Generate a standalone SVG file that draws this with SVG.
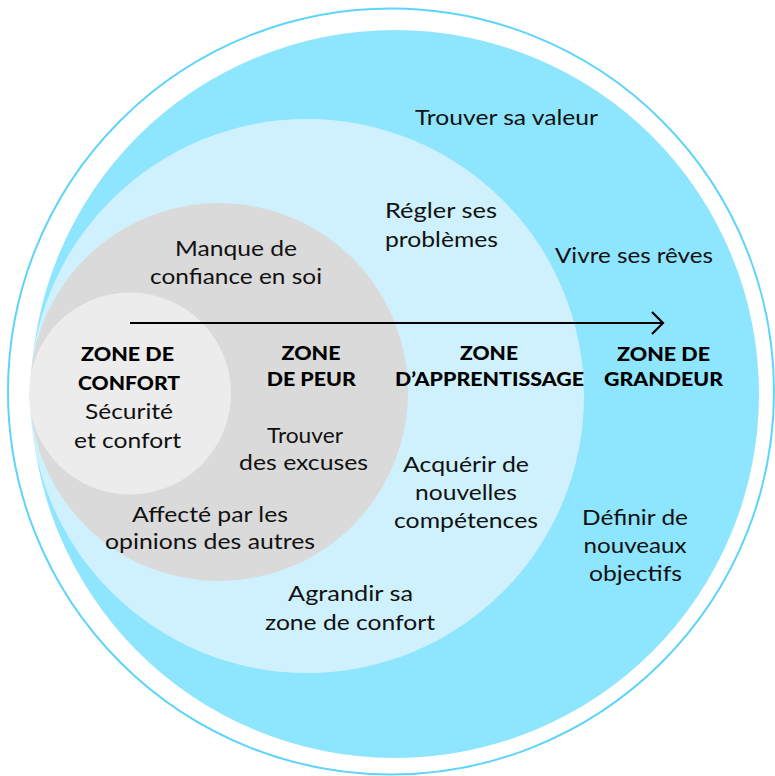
<svg xmlns="http://www.w3.org/2000/svg" width="775" height="776" viewBox="0 0 775 776">
<defs>
<style>
.t{font-family:Lato,"Noto Sans","Liberation Sans",sans-serif;font-size:21px;fill:#111;text-anchor:middle}
.b{font-family:Lato,"Noto Sans","Liberation Sans",sans-serif;font-size:19px;font-weight:900;fill:#000;text-anchor:middle}
</style>
<marker id="arr" viewBox="0 0 14 24" refX="12" refY="12" markerWidth="14" markerHeight="24" markerUnits="userSpaceOnUse" orient="auto">
<path d="M1,1 L12,12 L1,23" fill="none" stroke="#000" stroke-width="2.2"/>
</marker>
</defs>
<g id="ring"><circle cx="391" cy="391.5" r="383" fill="#fff" stroke="#5dd4fa" stroke-width="2"/></g>
<g id="zone-grandeur"><circle cx="395" cy="394" r="364" fill="#8ee5fe"/></g>
<g id="zone-apprentissage"><circle cx="307" cy="396" r="277" fill="#cef1fd"/></g>
<g id="zone-peur"><circle cx="219" cy="392" r="189" fill="#dadada"/></g>
<g id="zone-confort"><circle cx="130" cy="393.5" r="101" fill="#ececec"/></g>
<g id="connectors"><line x1="130" y1="323" x2="663" y2="323" stroke="#000" stroke-width="2.2" marker-end="url(#arr)"/></g>
<g id="labels-grandeur">
<text class="t" x="506.5" y="125" textLength="183" lengthAdjust="spacingAndGlyphs">Trouver sa valeur</text>
<text class="t" x="634" y="263" textLength="158" lengthAdjust="spacingAndGlyphs">Vivre ses rêves</text>
<text class="b" x="663.5" y="361" textLength="93" lengthAdjust="spacingAndGlyphs">ZONE DE</text>
<text class="b" x="663.5" y="386" textLength="119" lengthAdjust="spacingAndGlyphs">GRANDEUR</text>
<text class="t" x="635" y="525" textLength="106" lengthAdjust="spacingAndGlyphs">Définir de</text>
<text class="t" x="635" y="553" textLength="103" lengthAdjust="spacingAndGlyphs">nouveaux</text>
<text class="t" x="635.5" y="581" textLength="93" lengthAdjust="spacingAndGlyphs">objectifs</text>
</g>
<g id="labels-apprentissage">
<text class="t" x="441" y="218" textLength="112" lengthAdjust="spacingAndGlyphs">Régler ses</text>
<text class="t" x="441.5" y="247" textLength="113" lengthAdjust="spacingAndGlyphs">problèmes</text>
<text class="b" x="489" y="360" textLength="58" lengthAdjust="spacingAndGlyphs">ZONE</text>
<text class="b" x="489.5" y="385.5" textLength="189" lengthAdjust="spacingAndGlyphs">D’APPRENTISSAGE</text>
<text class="t" x="466" y="472" textLength="126" lengthAdjust="spacingAndGlyphs">Acquérir de</text>
<text class="t" x="466" y="500" textLength="102" lengthAdjust="spacingAndGlyphs">nouvelles</text>
<text class="t" x="466" y="528" textLength="144" lengthAdjust="spacingAndGlyphs">compétences</text>
<text class="t" x="350.5" y="601" textLength="125" lengthAdjust="spacingAndGlyphs">Agrandir sa</text>
<text class="t" x="350" y="630" textLength="170" lengthAdjust="spacingAndGlyphs">zone de confort</text>
</g>
<g id="labels-peur">
<text class="t" x="236" y="256" textLength="122" lengthAdjust="spacingAndGlyphs">Manque de</text>
<text class="t" x="236" y="284" textLength="172" lengthAdjust="spacingAndGlyphs">confiance en soi</text>
<text class="b" x="311" y="360" textLength="59" lengthAdjust="spacingAndGlyphs">ZONE</text>
<text class="b" x="311.3" y="385.5" textLength="89" lengthAdjust="spacingAndGlyphs">DE PEUR</text>
<text class="t" x="305" y="443" textLength="76" lengthAdjust="spacingAndGlyphs">Trouver</text>
<text class="t" x="303.6" y="470" textLength="129" lengthAdjust="spacingAndGlyphs">des excuses</text>
<text class="t" x="210" y="522" textLength="156" lengthAdjust="spacingAndGlyphs">Affecté par les</text>
<text class="t" x="210" y="549" textLength="210" lengthAdjust="spacingAndGlyphs">opinions des autres</text>
</g>
<g id="labels-confort">
<text class="b" x="127.5" y="361" textLength="93" lengthAdjust="spacingAndGlyphs">ZONE DE</text>
<text class="b" x="129" y="390" textLength="102" lengthAdjust="spacingAndGlyphs">CONFORT</text>
<text class="t" x="129" y="419" textLength="88" lengthAdjust="spacingAndGlyphs">Sécurité</text>
<text class="t" x="127.5" y="448" textLength="107" lengthAdjust="spacingAndGlyphs">et confort</text>
</g>
</svg>
